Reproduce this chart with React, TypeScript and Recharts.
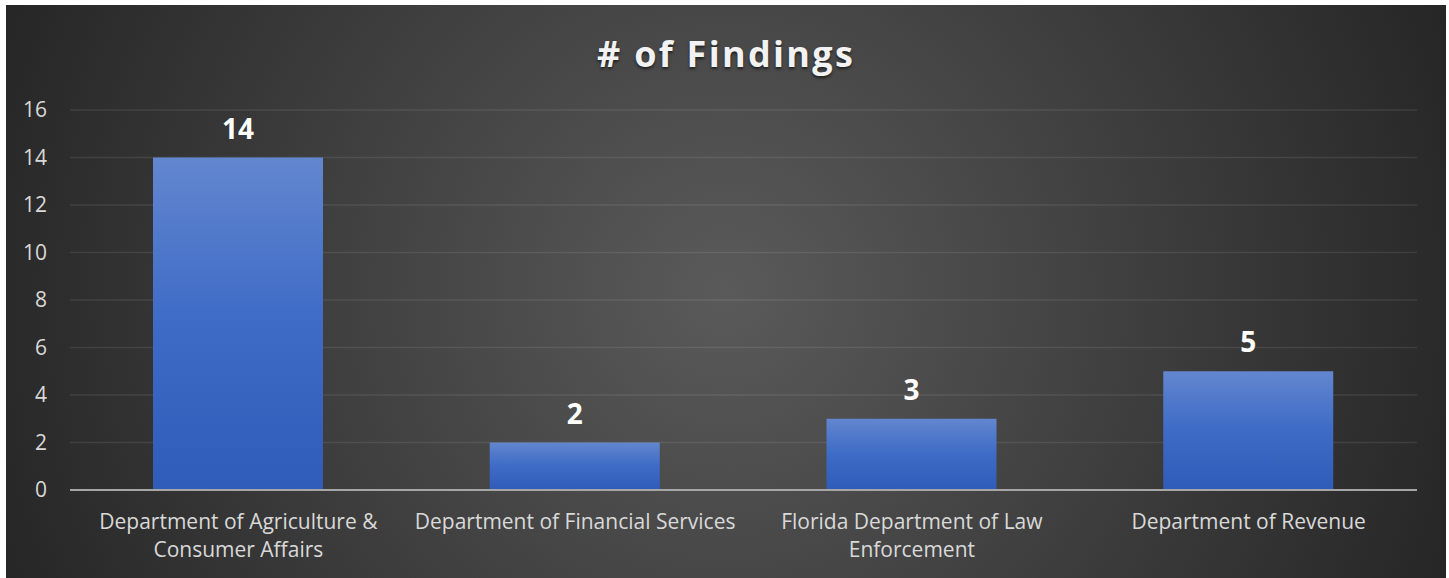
import { Bar, BarChart, CartesianGrid, LabelList, XAxis, YAxis } from "recharts";

const categories = [
  "Department of Agriculture & Consumer Affairs",
  "Department of Financial Services",
  "Florida Department of Law Enforcement",
  "Department of Revenue",
];
const findings = [14, 2, 3, 5];
const yTicks = [0, 2, 4, 6, 8, 10, 12, 14, 16];

const data = categories.map((name, i) => ({ name, findings: findings[i] }));

const FONT = "'Open Sans', sans-serif";
const TICK_FONT_SIZE = 21;

let ctx: CanvasRenderingContext2D | null = null;
function measure(s: string) {
  if (!ctx) ctx = document.createElement("canvas").getContext("2d");
  if (!ctx) return s.length * TICK_FONT_SIZE * 0.55;
  ctx.font = `${TICK_FONT_SIZE}px ${FONT}`;
  return ctx.measureText(s).width;
}

function wrap(text: string, maxWidth: number) {
  const lines: string[] = [];
  let cur = "";
  for (const w of text.split(" ")) {
    const next = cur ? cur + " " + w : w;
    if (cur && measure(next) > maxWidth) {
      lines.push(cur);
      cur = w;
    } else {
      cur = next;
    }
  }
  if (cur) lines.push(cur);
  return lines;
}

function CategoryTick(props: any) {
  const { x, y, payload } = props;
  const lines = wrap(String(payload.value), 336);
  return (
    <text
      x={x}
      y={y}
      textAnchor="middle"
      fill="#d9d9d9"
      fontSize={TICK_FONT_SIZE}
      fontFamily={FONT}
    >
      {lines.map((l, i) => (
        <tspan key={i} x={x} dy={i === 0 ? 17 : 28}>
          {l}
        </tspan>
      ))}
    </text>
  );
}

export default function App() {
  return (
    <div
      style={{
        position: "absolute",
        left: 6,
        top: 5,
        width: 1440,
        height: 573,
        background: "radial-gradient(circle farthest-corner at 50% 50%, #5a5a5a 0%, #262626 100%)",
      }}
    >
      <div
        style={{
          position: "absolute",
          top: 24,
          left: 0,
          width: 1440,
          textAlign: "center",
          fontFamily: FONT,
          fontWeight: 700,
          fontSize: 36,
          letterSpacing: 2.3,
          color: "#f2f2f2",
          textShadow: "0 2px 3px rgba(0,0,0,0.6)",
        }}
      >
        # of Findings
      </div>
      <BarChart
        width={1440}
        height={573}
        data={data}
        margin={{ top: 105, right: 29, bottom: 0, left: 0 }}
      >
        <defs>
          <linearGradient id="barFill" x1="0" y1="0" x2="0" y2="1">
            <stop offset="0%" stopColor="#6386cf" />
            <stop offset="50%" stopColor="#3d6bc6" />
            <stop offset="100%" stopColor="#2e5cb8" />
          </linearGradient>
        </defs>
        <CartesianGrid vertical={false} stroke="rgba(255,255,255,0.09)" strokeWidth={1.5} />
        <XAxis
          dataKey="name"
          interval={0}
          height={88}
          tickLine={false}
          tickSize={0}
          tickMargin={22}
          axisLine={{ stroke: "#a6a6a6", strokeWidth: 2 }}
          tick={<CategoryTick />}
        />
        <YAxis
          width={64}
          domain={[0, 16]}
          ticks={yTicks}
          axisLine={false}
          tickLine={false}
          tickSize={0}
          tickMargin={23}
          tick={{ fill: "#d9d9d9", fontSize: 21, fontFamily: FONT }}
        />
        <Bar dataKey="findings" fill="url(#barFill)" barSize={170} isAnimationActive={false}>
          <LabelList
            dataKey="findings"
            position="top"
            offset={19}
            fill="#ffffff"
            fontSize={28}
            fontWeight={700}
            fontFamily={FONT}
          />
        </Bar>
      </BarChart>
    </div>
  );
}
